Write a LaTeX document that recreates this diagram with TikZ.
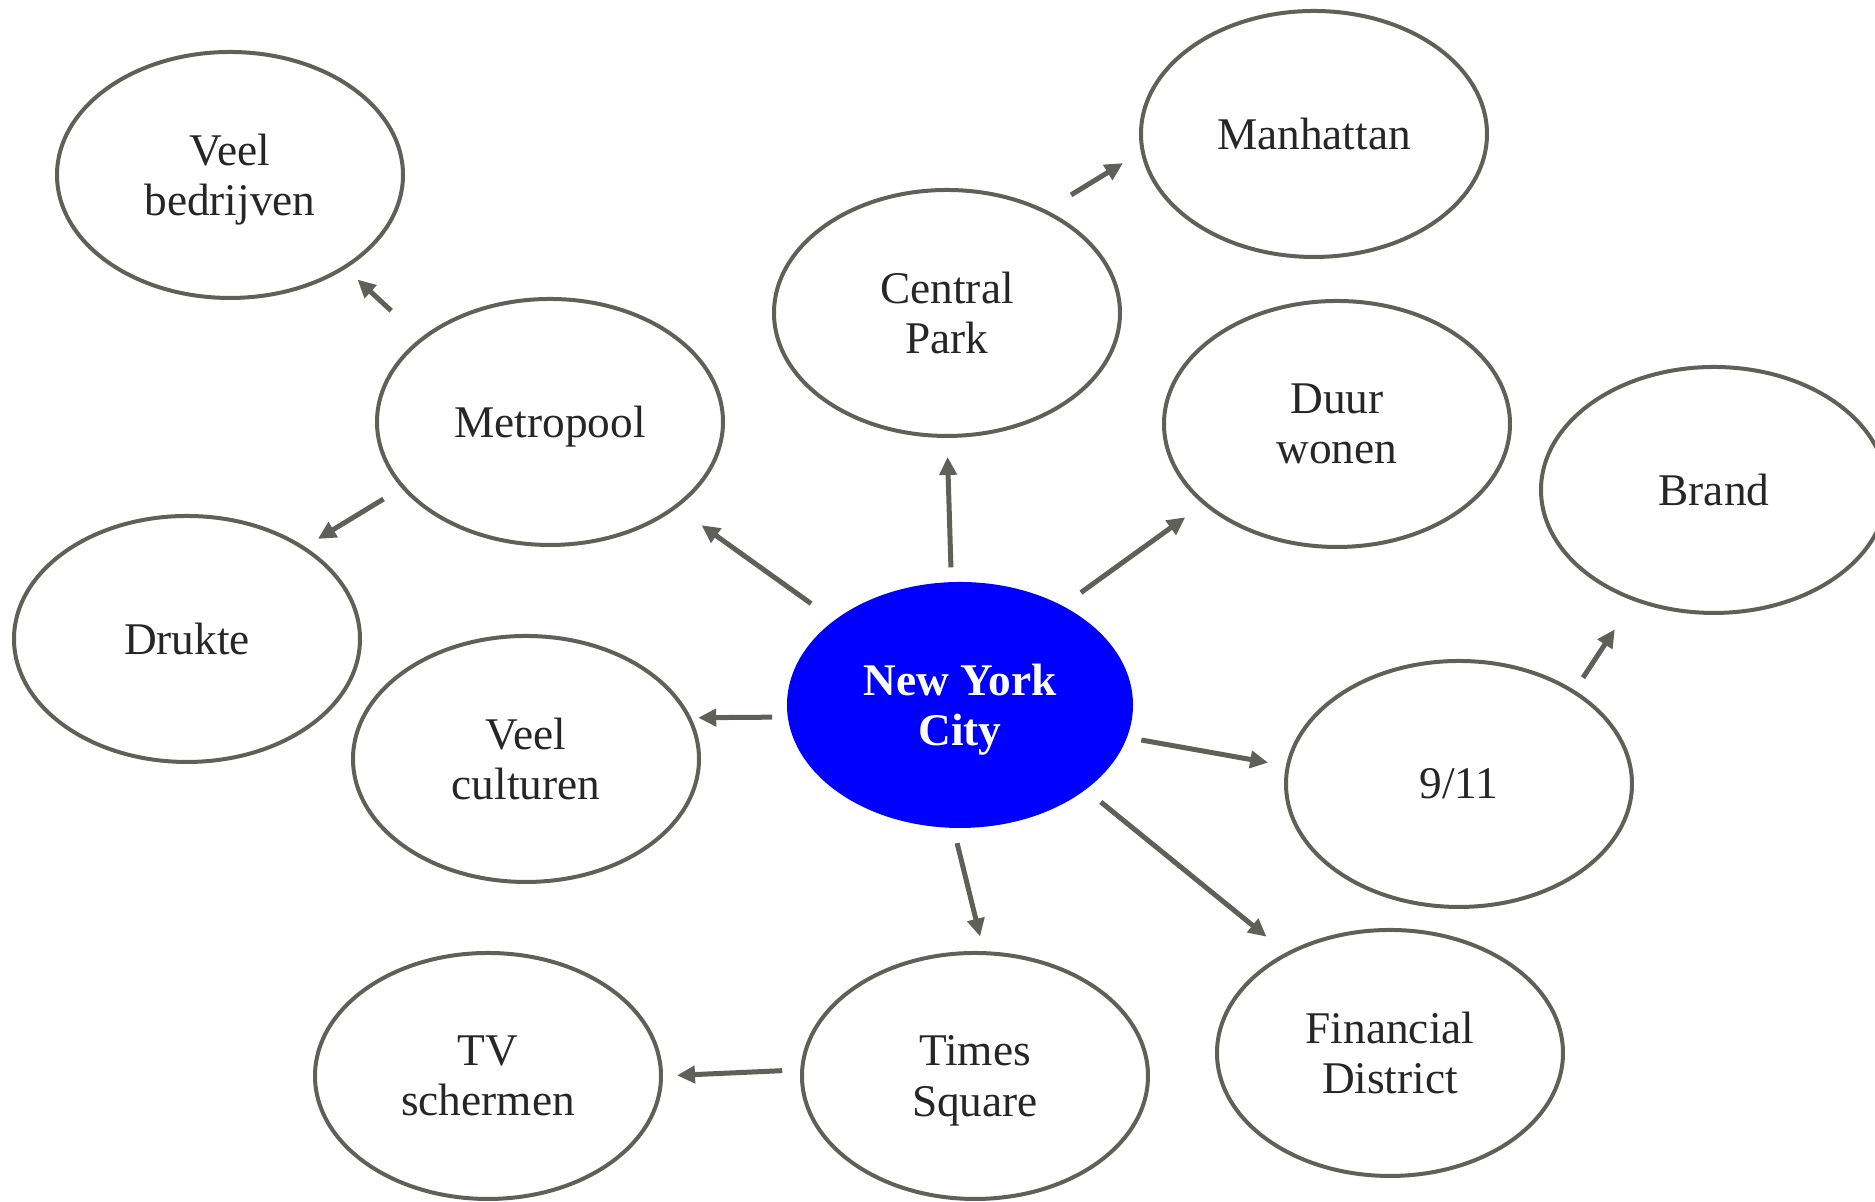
\documentclass[tikz,border=0pt]{standalone}
\usepackage{fontspec}
\setmainfont{Liberation Serif}
\usetikzlibrary{shapes.geometric,arrows.meta}
\definecolor{rand}{RGB}{95,96,90}
\definecolor{tekst}{RGB}{38,38,38}
\definecolor{nycblauw}{RGB}{0,0,255}
\tikzset{
  bol/.style={ellipse, draw=rand, line width=0.04cm, minimum width=3.46cm, minimum height=2.46cm,
    inner sep=0pt, text depth=-0.05cm, align=center, text=tekst, font=\fontsize{12.9}{14.3}\selectfont},
  kern/.style={ellipse, fill=nycblauw, minimum width=3.46cm, minimum height=2.46cm,
    inner sep=0pt, text depth=-0.03cm, align=center, text=white, font=\fontsize{12.9}{14.3}\selectfont\bfseries},
  pijl/.style={draw=rand, line width=0.05cm, -{Triangle[length=1.8mm,width=1.7mm]}}
}
\begin{document}
\begin{tikzpicture}
\useasboundingbox (0,0) rectangle (18.75,12.02);

\node[kern](nyc) at (9.6,4.97){New York\\City};
\node[bol](bedr) at (2.3,10.27){Veel\\bedrijven};
\node[bol](metro) at (5.5,7.8){Metropool};
\node[bol](cp) at (9.47,8.89){Central\\Park};
\node[bol](manh) at (13.14,10.68){Manhattan};
\node[bol](duur) at (13.37,7.78){Duur\\wonen};
\node[bol](brand) at (17.14,7.12){Brand};
\node[bol](drukte) at (1.87,5.63){Drukte};
\node[bol](cult) at (5.26,4.43){Veel\\culturen};
\node[bol](nine) at (14.59,4.18){9/11};
\node[bol](times) at (9.75,1.26){Times\\Square};
\node[bol](tv) at (4.88,1.26){TV\\schermen};
\node[bol](fin) at (13.9,1.49){Financial\\District};

\draw[pijl, shorten <=2.8mm, shorten >=3.0mm](nyc.146)--(metro.-34);
\draw[pijl, shorten <=1.4mm, shorten >=1.9mm](nyc.94)--(cp.-90);
\draw[pijl, shorten <=2.2mm, shorten >=2.2mm](nyc.44)--(duur.-149);
\draw[pijl, shorten <=1.5mm, shorten >=0.7mm](nyc.-176)--(cult.14);
\draw[pijl, shorten <=1.4mm, shorten >=1.8mm](nyc.-11)--(nine.174);
\draw[pijl, shorten <=1.5mm, shorten >=1.5mm](nyc.-93)--(times.86);
\draw[pijl, shorten <=1.9mm, shorten >=2.5mm](nyc.-34)--(fin.136);
\draw[pijl, shorten <=4.0mm, shorten >=1.6mm](metro.147)--(bedr.-39);
\draw[pijl, shorten <=2.1mm, shorten >=1.5mm](metro.-156)--(drukte.38);
\draw[pijl, shorten <=2.9mm, shorten >=2.1mm](cp.46)--(manh.-174);
\draw[pijl, shorten <=1.5mm, shorten >=3.4mm](nine.39)--(brand.-126);
\draw[pijl, shorten <=1.8mm, shorten >=1.4mm](times.178)--(tv.0);

\end{tikzpicture}
\end{document}
